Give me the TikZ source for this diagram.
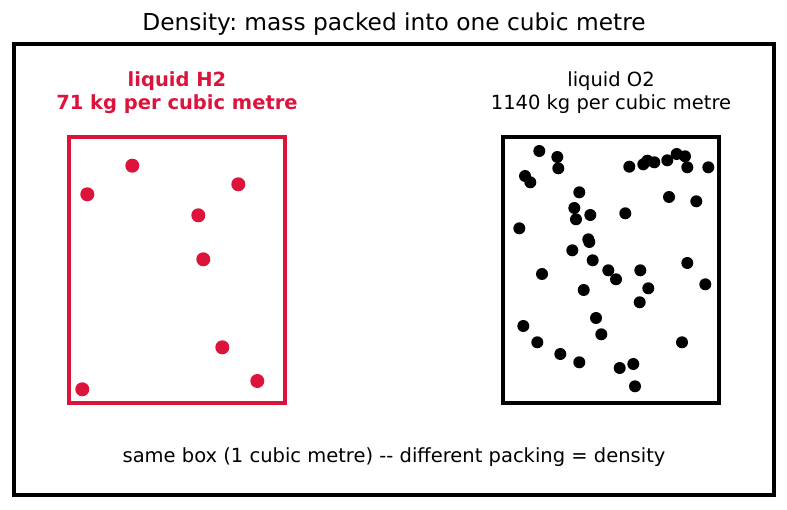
\documentclass[tikz,border=0pt]{standalone}
\usepackage{fontspec}
\setmainfont{DejaVu Sans}
\frenchspacing
\definecolor{hydro}{HTML}{DC143C}
\definecolor{oxy}{HTML}{000000}
\begin{document}
\begin{tikzpicture}[
  x=1pt, y=-1pt,
  frame/.style={draw=black, line width=4pt, inner sep=0pt,
    minimum width=760pt, minimum height=451pt},
  tank/.style={draw, line width=4pt, inner sep=0pt,
    minimum width=216pt, minimum height=266pt},
  label/.style={font=\fontsize{19.5}{23.4}\selectfont, align=center},
  heading/.style={font=\fontsize{23.3}{27}\selectfont}
]
  \useasboundingbox (0,0) rectangle (787,510);
  \node[heading] (title) at (394,24) {Density: mass packed into one cubic metre};
  \node[frame] (frame) at (394,269.5) {};

  % the two boxes
  \node[tank, draw=hydro] (h2box) at (177,270) {};
  \node[tank, draw=oxy] (o2box) at (611,270) {};
  \node[label, text=hydro, font=\fontsize{19.5}{23.4}\selectfont\bfseries] (h2label) at (177,92.5)
    {liquid H2\\71 kg per cubic metre};
  \node[label] (o2label) at (611,92.5) {liquid O2\\1140 kg per cubic metre};

  % molecules
  \foreach \px/\py in {132.3/165.7, 87.3/194.3, 238.3/184.3, 198.3/215.3,
      203.3/259.3, 222.3/347.3, 257.3/381, 82.3/389.3}
    \fill[hydro] (\px,\py) circle[radius=7pt];
  \foreach \px/\py in {539.3/151, 557.3/157, 558.3/168.3, 525/176, 530.3/182.3,
      629.3/166.7, 643.3/164.3, 647.3/160.7, 654.3/162.3, 667.3/160.3,
      676.7/154, 685/156.3, 687.3/167.3, 708.3/167.3, 579.3/192.3,
      669/197, 696.3/201.3, 574.3/208, 576/219.3, 590.3/215,
      625.3/213.3, 519.3/228.3, 588.3/239.3, 589.3/242, 572.3/250.3,
      592.7/260.3, 687.3/263, 542/274, 608.3/270.3, 640.3/270.3,
      616/279.3, 705.3/284.3, 648.3/288.3, 583.7/290, 639.7/302.3,
      596/318, 523.3/326, 601.3/334.3, 537.3/342.3, 682/342.3,
      560.3/354, 579.3/362.3, 619.7/368, 633.3/364, 635/386.3}
    \fill[oxy] (\px,\py) circle[radius=6pt];

  \node[label] (caption) at (394,457)
    {same box (1 cubic metre) -{}- different packing = density};
\end{tikzpicture}
\end{document}
